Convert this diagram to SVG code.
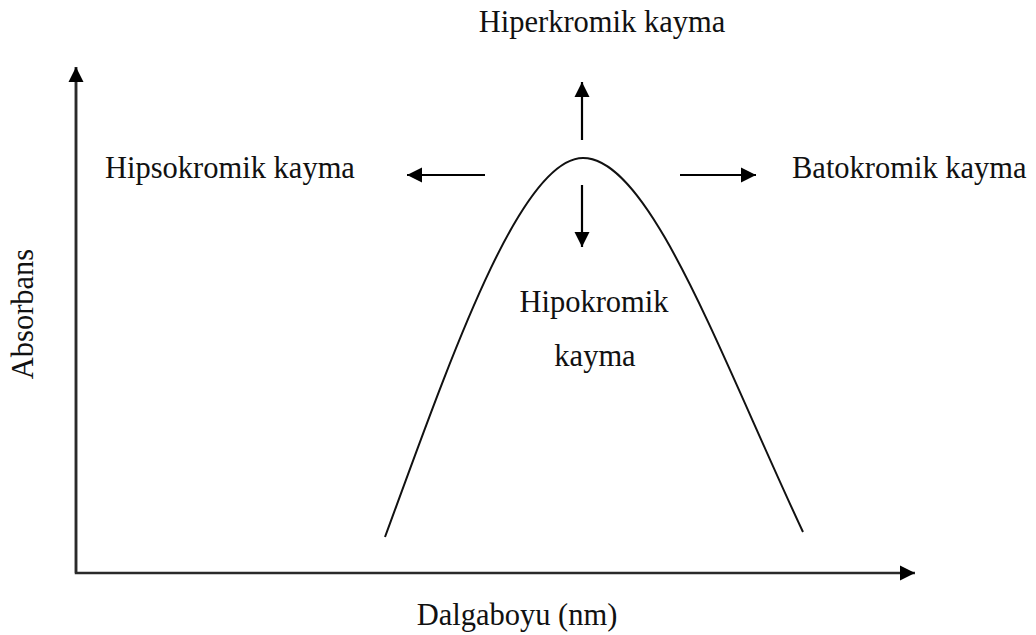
<svg xmlns="http://www.w3.org/2000/svg" width="1036" height="635" viewBox="0 0 1036 635">
  <style>
    .lbl { font-family: "Liberation Serif", "Times New Roman", serif; font-size: 30.5px; fill: #111; }
    .axis { stroke: #2a2a2a; stroke-width: 2.5; fill: none; }
    .arr { stroke: #000; stroke-width: 2.2; fill: none; }
    .curve { stroke: #111; stroke-width: 2; fill: none; }
  </style>
  <defs>
    <marker id="ah" markerWidth="16" markerHeight="16" viewBox="0 0 16 16" refX="15" refY="8" orient="auto" markerUnits="userSpaceOnUse">
      <path d="M0,0.5 L15,8 L0,15.5 Z" fill="#000"/>
    </marker>
  </defs>
  <rect width="1036" height="635" fill="#fff"/>

  <g id="axes">
    <path class="axis" d="M76,67 L76,573 L915,573" marker-end="url(#ah)"/>
    <path class="axis" d="M76,573 L76,67" marker-end="url(#ah)"/>
  </g>

  <g id="peak-curve">
    <path class="curve" d="M385,537 C450,360 520,158 583,158 C650,158 720,355 803,532"/>
  </g>

  <g id="connectors">
    <line class="arr" x1="582" y1="140" x2="582" y2="82" marker-end="url(#ah)"/>
    <line class="arr" x1="582" y1="185" x2="582" y2="247" marker-end="url(#ah)"/>
    <line class="arr" x1="485" y1="175" x2="407" y2="175" marker-end="url(#ah)"/>
    <line class="arr" x1="680" y1="175" x2="756" y2="175" marker-end="url(#ah)"/>
  </g>

  <g id="hiperkromik"><text class="lbl" x="602" y="32" text-anchor="middle">Hiperkromik kayma</text></g>
  <g id="hipsokromik"><text class="lbl" x="105" y="178">Hipsokromik kayma</text></g>
  <g id="batokromik"><text class="lbl" x="792" y="178">Batokromik kayma</text></g>
  <g id="hipokromik">
    <text class="lbl" x="594" y="312" text-anchor="middle">Hipokromik</text>
    <text class="lbl" x="595" y="366" text-anchor="middle">kayma</text>
  </g>
  <g id="xlabel"><text class="lbl" x="517" y="625" text-anchor="middle">Dalgaboyu (nm)</text></g>
  <g id="ylabel"><text class="lbl" x="0" y="0" text-anchor="middle" transform="translate(33,314) rotate(-90)">Absorbans</text></g>
</svg>
